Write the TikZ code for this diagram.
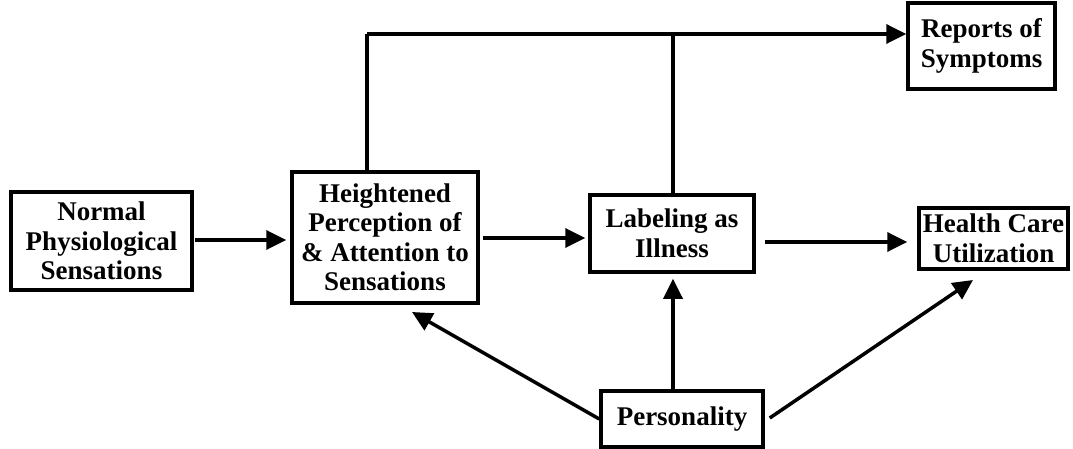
\documentclass[tikz,border=0pt]{standalone}
\usepackage{fontspec}
\setmainfont{Liberation Serif}
\usetikzlibrary{arrows.meta}
\begin{document}
\begin{tikzpicture}[x=1pt,y=-1pt,
  box/.style={draw, line width=3.5pt, inner sep=0pt, align=center,
    font=\bfseries\fontsize{27}{29.5}\selectfont},
  arr/.style={line width=3.5pt, -{Triangle[length=20pt,width=19pt]}},
  link/.style={line width=3.5pt}]
\useasboundingbox (0,0) rectangle (1073,449);

% boxes
\node[box, minimum width=181pt, minimum height=98pt] (normal) at (101.5,241)
  {Normal\\Physiological\\Sensations};
\node[box, minimum width=186pt, minimum height=131pt] (percep) at (385,237.5)
  {Heightened\\Perception of\\\& Attention to\\Sensations};
\node[box, minimum width=164pt, minimum height=77pt] (label) at (672,233.5)
  {Labeling as\\Illness};
\node[box, minimum width=149pt, minimum height=61pt] (care) at (993.5,238.5)
  {Health Care\\Utilization};
\node[box, minimum width=147pt, minimum height=86pt] (reports) at (981.5,46)
  {Reports of\\Symptoms};
\node[box, minimum width=162pt, minimum height=56pt] (person) at (682,419)
  {Personality};

% path to reports
\coordinate (topL) at (367,34);
\coordinate (topM) at (673,34);
\draw[link] ([xshift=-18pt]percep.north) -- (topL);
\draw[arr] (topL) -- (topL -| reports.west);
\draw[link] ([xshift=1pt]label.north) -- (topM);

% main chain
\draw[arr, shorten <=1pt, shorten >=4pt] (normal.east |- 0,240) -- (percep.west |- 0,240);
\draw[arr, shorten <=3pt, shorten >=3pt] (percep.east |- 0,238) -- (label.west |- 0,238);
\draw[arr, shorten <=9pt, shorten >=10pt] (label.east |- 0,242) -- (care.west |- 0,242);

% personality influences
\coordinate (tipP) at (412,312);
\coordinate (tipC) at (973,280);
\draw[arr] (person.west) -- (tipP);
\draw[arr, shorten >=5pt] (673,391) -- (label.south -| 673,0);
\draw[arr] ([xshift=5pt,yshift=1pt]person.east) -- (tipC);
\end{tikzpicture}
\end{document}
